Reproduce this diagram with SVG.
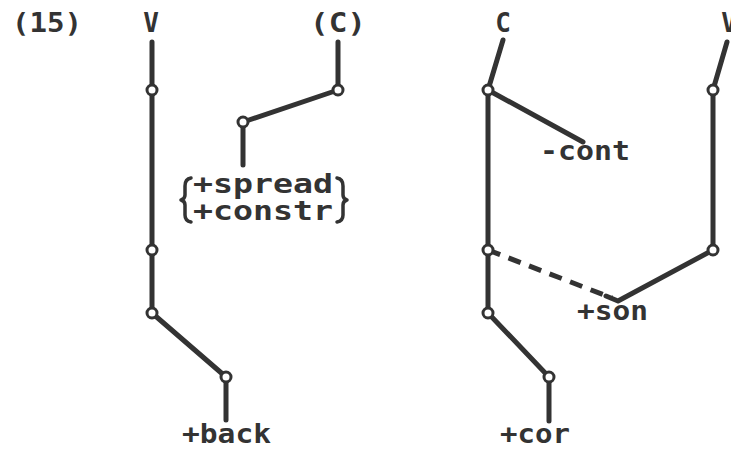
<svg xmlns="http://www.w3.org/2000/svg" width="731" height="449" viewBox="0 0 731 449">
<style>
.ln{stroke:#333;stroke-width:5;fill:none;stroke-linecap:round;stroke-linejoin:round}
.ds{stroke-dasharray:13 9;stroke-linecap:butt}
.nd{fill:#fff;stroke:#333;stroke-width:3}
.t{font-family:"DejaVu Sans Mono","Liberation Mono",monospace;font-weight:bold;font-size:26px;fill:#333}
.br{stroke:#333;stroke-width:3.5;fill:none;stroke-linecap:round;stroke-linejoin:round}
</style>
<rect width="731" height="449" fill="#fff"/>
<g id="connectors">
<path class="ln" d="M152,42 V313 L226,377 V420"/>
<path class="ln" d="M338,42 V90 L243,122 V165"/>
<path class="ln" d="M503,40 L488,90 L583,142"/>
<path class="ln" d="M488,90 V313 L549,377 V421"/>
<path class="ln ds" d="M488,250 L612,298"/>
<path class="ln" d="M606,296 L618,301 L713,250 V90 L727,42"/>
</g>
<g id="label-15"><text class="t" x="12" y="32" textLength="70" lengthAdjust="spacingAndGlyphs">(15)</text></g>
<g id="node-V-left">
<text class="t" x="151" y="32" text-anchor="middle">V</text>
<circle class="nd" cx="152" cy="90" r="5"/>
<circle class="nd" cx="152" cy="250" r="5"/>
<circle class="nd" cx="152" cy="313" r="5"/>
<circle class="nd" cx="226" cy="377" r="5"/>
<text class="t" x="182" y="443" textLength="89" lengthAdjust="spacingAndGlyphs">+back</text>
</g>
<g id="node-C-paren">
<text class="t" x="310" y="32" textLength="56" lengthAdjust="spacingAndGlyphs">(C)</text>
<circle class="nd" cx="338" cy="90" r="5"/>
<circle class="nd" cx="243" cy="122" r="5"/>
</g>
<g id="label-spread-constr">
<path class="br" d="M191,178 Q185,179 185,186 V195 Q185,199 181,200 Q185,201 185,205 V215 Q185,221 191,222"/>
<path class="br" d="M337,178 Q343,179 343,186 V195 Q343,199 347,200 Q343,201 343,205 V215 Q343,221 337,222"/>
<text class="t" x="193" y="193" textLength="140" lengthAdjust="spacingAndGlyphs">+spread</text>
<text class="t" x="193" y="220" textLength="140" lengthAdjust="spacingAndGlyphs">+constr</text>
</g>
<g id="node-C">
<text class="t" x="503" y="32" text-anchor="middle">C</text>
<circle class="nd" cx="488" cy="90" r="5"/>
<circle class="nd" cx="488" cy="250" r="5"/>
<circle class="nd" cx="488" cy="313" r="5"/>
<circle class="nd" cx="549" cy="377" r="5"/>
<text class="t" x="540" y="160" textLength="90" lengthAdjust="spacingAndGlyphs">-cont</text>
<text class="t" x="500" y="443" textLength="70" lengthAdjust="spacingAndGlyphs">+cor</text>
</g>
<g id="node-V-right">
<text class="t" x="729" y="32" text-anchor="middle">V</text>
<circle class="nd" cx="713" cy="90" r="5"/>
<circle class="nd" cx="713" cy="250" r="5"/>
<text class="t" x="577" y="320" textLength="71" lengthAdjust="spacingAndGlyphs">+son</text>
</g>
</svg>
